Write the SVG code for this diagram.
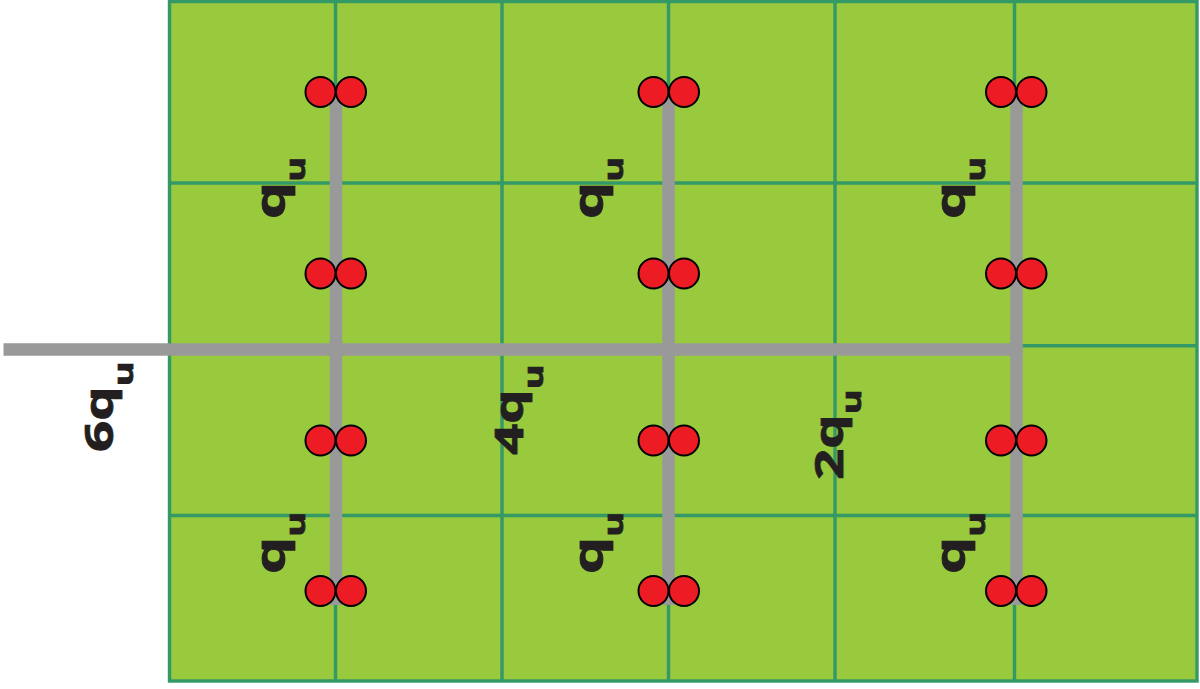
<svg xmlns="http://www.w3.org/2000/svg" width="1200" height="689" viewBox="0 0 1200 689">
<style>
.grid{stroke:#339966;stroke-width:3.4;fill:none}
.beam{stroke:#999999;stroke-width:12.5;fill:none}
.pin{fill:#ed1c24;stroke:#000;stroke-width:2}
.lbl{font-family:"Open Sans","DejaVu Sans",sans-serif;font-weight:bold;font-size:39px;fill:#231f20;stroke:#231f20;stroke-width:0.8}
.big{font-size:42px}
.sub{font-size:27px}
</style>
<rect x="0" y="0" width="1200" height="689" fill="#ffffff"/>
<g id="slab">
<rect x="169.5" y="1.5" width="1027.5" height="679.5" fill="#99c93c" stroke="#339966" stroke-width="3.4"/>
<path class="grid" d="M335.5 1.5V681M502 1.5V681M668.5 1.5V681M835 1.5V681M1014.5 1.5V681M169.5 183H1197M169.5 515.5H1197M1016 345.7H1197"/>
</g>
<g id="connectors">
<path class="beam" d="M3.5 349.5H1022.5"/>
<path class="beam" d="M336 90V605M668.5 90V605M1016.5 90V605"/>
</g>
<g id="pins">
<circle class="pin" cx="320.5" cy="92" r="15"/><circle class="pin" cx="351" cy="92" r="15"/>
<circle class="pin" cx="320.5" cy="273.5" r="15"/><circle class="pin" cx="351" cy="273.5" r="15"/>
<circle class="pin" cx="320.5" cy="440.5" r="15"/><circle class="pin" cx="351" cy="440.5" r="15"/>
<circle class="pin" cx="320.5" cy="591" r="15"/><circle class="pin" cx="351" cy="591" r="15"/>
<circle class="pin" cx="653.5" cy="92" r="15"/><circle class="pin" cx="684" cy="92" r="15"/>
<circle class="pin" cx="653.5" cy="273.5" r="15"/><circle class="pin" cx="684" cy="273.5" r="15"/>
<circle class="pin" cx="653.5" cy="440.5" r="15"/><circle class="pin" cx="684" cy="440.5" r="15"/>
<circle class="pin" cx="653.5" cy="591" r="15"/><circle class="pin" cx="684" cy="591" r="15"/>
<circle class="pin" cx="1001" cy="92" r="15"/><circle class="pin" cx="1031.5" cy="92" r="15"/>
<circle class="pin" cx="1001" cy="273.5" r="15"/><circle class="pin" cx="1031.5" cy="273.5" r="15"/>
<circle class="pin" cx="1001" cy="440.5" r="15"/><circle class="pin" cx="1031.5" cy="440.5" r="15"/>
<circle class="pin" cx="1001" cy="591" r="15"/><circle class="pin" cx="1031.5" cy="591" r="15"/>
</g>
<g id="labels">
<text class="lbl big" transform="translate(285,219) rotate(-90) scale(1.4,1)">q<tspan class="sub" dy="20">u</tspan></text>
<text class="lbl big" transform="translate(603,219) rotate(-90) scale(1.4,1)">q<tspan class="sub" dy="20">u</tspan></text>
<text class="lbl big" transform="translate(965,219) rotate(-90) scale(1.4,1)">q<tspan class="sub" dy="20">u</tspan></text>
<text class="lbl big" transform="translate(285,574) rotate(-90) scale(1.4,1)">q<tspan class="sub" dy="20">u</tspan></text>
<text class="lbl big" transform="translate(603,574) rotate(-90) scale(1.4,1)">q<tspan class="sub" dy="20">u</tspan></text>
<text class="lbl big" transform="translate(965,574) rotate(-90) scale(1.4,1)">q<tspan class="sub" dy="20">u</tspan></text>
<text class="lbl" transform="translate(113,452) rotate(-90) scale(1.4,1)">6q<tspan class="sub" dy="20">u</tspan></text>
<text class="lbl" transform="translate(523,455) rotate(-90) scale(1.4,1)">4q<tspan class="sub" dy="20">u</tspan></text>
<text class="lbl" transform="translate(843,480) rotate(-90) scale(1.4,1)">2q<tspan class="sub" dy="18">u</tspan></text>
</g>
</svg>
